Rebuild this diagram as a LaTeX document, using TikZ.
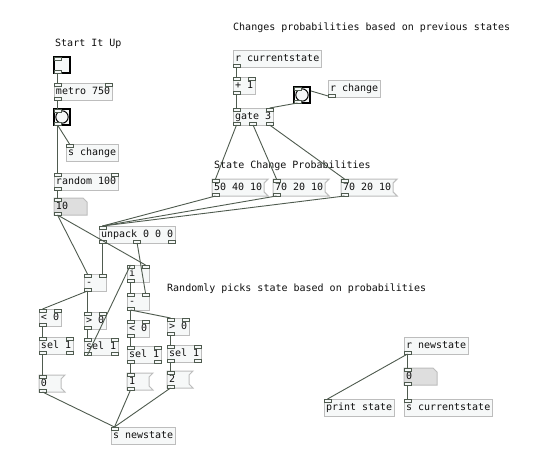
\documentclass[tikz,border=0pt]{standalone}
\usepackage{fontspec}
\usetikzlibrary{calc,backgrounds}
\newfontfamily\pdfont{DejaVu Sans Mono}
\definecolor{pdink}{HTML}{101010}
\definecolor{pdline}{HTML}{4F5B4F}
\definecolor{pdedge}{HTML}{BDBDBD}
\definecolor{pdpale}{HTML}{F6F8F8}
\definecolor{pdgrey}{HTML}{DEDEDE}
\tikzset{
  pd text/.style={font=\pdfont\fontsize{10}{12}\selectfont, text=pdink},
  pd box/.style={pd text, anchor=north west, inner xsep=2pt, inner ysep=0pt,
    minimum height=17pt, text height=7.5pt, text depth=2pt, outer sep=0pt},
  pd obj/.style={pd box, draw=pdedge, fill=pdpale, line width=1pt},
  pd msg/.style={pd box},
  pd narrow/.style={text width=18pt},
  pd atom/.style={pd box, text width=29pt},
  pd gui/.style={draw=black, fill=pdpale, line width=1.2pt, minimum size=16pt,
    inner sep=0pt, outer sep=0pt, anchor=north west},
  pd bang/.style={pd gui, path picture={\draw[line width=1pt]
    (path picture bounding box.center) circle (6.2pt);}},
  pd port/.style={draw=pdline, fill=pdpale, line width=0.8pt, minimum width=7pt,
    minimum height=3pt, inner sep=0pt, outer sep=0pt},
  pd wire/.style={draw=pdline, line width=0.9pt},
  pd comment/.style={pd text, anchor=west, inner sep=0pt}
}
% inlets and outlets: node name, number of inlets, number of outlets
\newcommand{\pdports}[3]{%
  \ifnum#2>0
    \foreach \k in {1,...,#2}{%
      \ifnum#2=1 \def\pdfrac{0}\else\pgfmathsetmacro\pdfrac{(\k-1)/(#2-1)}\fi
      \node[pd port, anchor=north west] (#1-i\k)
        at ($(#1.north west)!\pdfrac!([xshift=-7pt]#1.north east)$) {};
    }%
  \fi
  \ifnum#3>0
    \foreach \k in {1,...,#3}{%
      \ifnum#3=1 \def\pdfrac{0}\else\pgfmathsetmacro\pdfrac{(\k-1)/(#3-1)}\fi
      \node[pd port, anchor=south west] (#1-o\k)
        at ($(#1.south west)!\pdfrac!([xshift=-7pt]#1.south east)$) {};
    }%
  \fi}

\begin{document}
\begin{tikzpicture}[x=1pt, y=-1pt]
  \begin{scope}[on background layer]
    \fill[white] (0,0) rectangle (550,475);
  \end{scope}
  \useasboundingbox (0,0) rectangle (550,475);
  % comments
  \node[pd comment] (start) at (55,44) {Start It Up};
  \node[pd comment] (changes) at (233,28) {Changes probabilities based on previous states};
  \node[pd comment] (probs) at (214,166) {State Change Probabilities};
  \node[pd comment] (picks) at (167,289) {Randomly picks state based on probabilities};
  % left column
  \node[pd gui] (tgl) at (54,57) {};
  \node[pd obj] (metro) at (54,83) {metro 750};
  \node[pd bang] (bang1) at (54,109) {};
  \node[pd obj] (schange) at (66,144) {s change};
  \node[pd obj] (rand) at (54,173) {random 100};
  \node[pd atom] (num) at (54,198) {10};
  % state and gate
  \node[pd obj] (rcur) at (233,50) {r currentstate};
  \node[pd obj] (plus) at (233,77) {+ 1};
  \node[pd bang] (bang2) at (294,87) {};
  \node[pd obj] (rchange) at (328,80) {r change};
  \node[pd obj] (gate) at (233,108) {gate 3};
  \node[pd msg] (ma) at (212,179) {50 40 10};
  \node[pd msg] (mb) at (273,179) {70 20 10};
  \node[pd msg] (mc) at (341,179) {70 20 10};
  % picking
  \node[pd obj] (unpack) at (99,226) {unpack 0 0 0};
  \node[pd obj, pd narrow] (minus1) at (84,274) {-};
  \node[pd obj, pd narrow] (int) at (127,265) {i};
  \node[pd obj, pd narrow] (minus2) at (127,293) {-};
  \node[pd obj] (lt1) at (39,309) {< 0};
  \node[pd obj] (gt1) at (84,312) {> 0};
  \node[pd obj] (lt2) at (127,320) {< 0};
  \node[pd obj] (gt2) at (167,318) {> 0};
  \node[pd obj] (sela) at (39,337) {sel 1};
  \node[pd obj] (selb) at (84,338) {sel 1};
  \node[pd obj] (selc) at (127,346) {sel 1};
  \node[pd obj] (seld) at (167,345) {sel 1};
  \node[pd msg, pd narrow] (m0) at (39,375) {0};
  \node[pd msg, pd narrow] (m1) at (127,373) {1};
  \node[pd msg, pd narrow] (m2) at (167,371) {2};
  \node[pd obj] (snew) at (111,427) {s newstate};
  % new state
  \node[pd obj] (rnew) at (404,337) {r newstate};
  \node[pd atom] (zero) at (404,368) {0};
  \node[pd obj] (print) at (324,399) {print state};
  \node[pd obj] (scur) at (404,399) {s currentstate};
  % ports
  \pdports{tgl}{1}{1}
  \pdports{metro}{2}{1}
  \pdports{bang1}{1}{1}
  \pdports{schange}{1}{0}
  \pdports{rand}{2}{1}
  \pdports{num}{1}{1}
  \pdports{rcur}{0}{1}
  \pdports{plus}{2}{1}
  \pdports{bang2}{1}{1}
  \pdports{rchange}{0}{1}
  \pdports{gate}{2}{3}
  \pdports{ma}{1}{1}
  \pdports{mb}{1}{1}
  \pdports{mc}{1}{1}
  \pdports{unpack}{1}{3}
  \pdports{minus1}{2}{1}
  \pdports{int}{2}{1}
  \pdports{minus2}{2}{1}
  \pdports{lt1}{2}{1}
  \pdports{gt1}{2}{1}
  \pdports{lt2}{2}{1}
  \pdports{gt2}{2}{1}
  \pdports{sela}{2}{2}
  \pdports{selb}{2}{2}
  \pdports{selc}{2}{2}
  \pdports{seld}{2}{2}
  \pdports{m0}{1}{1}
  \pdports{m1}{1}{1}
  \pdports{m2}{1}{1}
  \pdports{snew}{1}{0}
  \pdports{rnew}{0}{1}
  \pdports{zero}{1}{1}
  \pdports{print}{1}{0}
  \pdports{scur}{1}{0}
  % message flags and number boxes
  \begin{scope}[on background layer]
    \foreach \m in {ma,mb,mc,m0,m1,m2}
      \draw[draw=pdedge, fill=pdpale, line width=1pt] (\m.north west)
        -- ([xshift=4pt]\m.north east) -- ([yshift=-4pt]\m.north east)
        -- ([yshift=4pt]\m.south east) -- ([xshift=4pt]\m.south east)
        -- (\m.south west) -- cycle;
    \foreach \a in {num,zero}
      \draw[draw=pdedge, fill=pdgrey, line width=1pt] (\a.north west)
        -- ([xshift=-4pt]\a.north east) -- ([yshift=-4pt]\a.north east)
        -- (\a.south east) -- (\a.south west) -- cycle;
    \draw[pd wire] (rchange-o1.south) -- (bang2-i1.north);
  \end{scope}
  % wires
  \draw[pd wire] (tgl-o1.south) -- (metro-i1.north);
  \draw[pd wire] (metro-o1.south) -- (bang1-i1.north);
  \draw[pd wire] (bang1-o1.south) -- (schange-i1.north);
  \draw[pd wire] (bang1-o1.south) -- (rand-i1.north);
  \draw[pd wire] (rand-o1.south) -- (num-i1.north);
  \draw[pd wire] (num-o1.south) -- (minus1-i1.north);
  \draw[pd wire] (num-o1.south) -- (int-i2.north);
  \draw[pd wire] (rcur-o1.south) -- (plus-i1.north);
  \draw[pd wire] (plus-o1.south) -- (gate-i1.north);
  \draw[pd wire] (bang2-o1.south) -- (gate-i2.north);
  \draw[pd wire] (gate-o1.south) -- (ma-i1.north);
  \draw[pd wire] (gate-o2.south) -- (mb-i1.north);
  \draw[pd wire] (gate-o3.south) -- (mc-i1.north);
  \foreach \m in {ma,mb,mc}
    \draw[pd wire] (\m-o1.south) -- (unpack-i1.north);
  \draw[pd wire] (unpack-o1.south) -- (minus1-i2.north);
  \draw[pd wire] (unpack-o2.south) -- (minus2-i2.north);
  \draw[pd wire] (minus1-o1.south) -- (lt1-i1.north);
  \draw[pd wire] (minus1-o1.south) -- (gt1-i1.north);
  \draw[pd wire] (int-o1.south) -- (minus2-i1.north);
  \draw[pd wire] (minus2-o1.south) -- (lt2-i1.north);
  \draw[pd wire] (minus2-o1.south) -- (gt2-i1.north);
  \draw[pd wire] (lt1-o1.south) -- (sela-i1.north);
  \draw[pd wire] (gt1-o1.south) -- (selb-i1.north);
  \draw[pd wire] (lt2-o1.south) -- (selc-i1.north);
  \draw[pd wire] (gt2-o1.south) -- (seld-i1.north);
  \draw[pd wire] (sela-o1.south) -- (m0-i1.north);
  \draw[pd wire] (selb-o1.south) -- (int-i1.north);
  \draw[pd wire] (selc-o1.south) -- (m1-i1.north);
  \draw[pd wire] (seld-o1.south) -- (m2-i1.north);
  \foreach \m in {m0,m1,m2}
    \draw[pd wire] (\m-o1.south) -- (snew-i1.north);
  \draw[pd wire] (rnew-o1.south) -- (print-i1.north);
  \draw[pd wire] (rnew-o1.south) -- (zero-i1.north);
  \draw[pd wire] (zero-o1.south) -- (scur-i1.north);
\end{tikzpicture}
\end{document}
